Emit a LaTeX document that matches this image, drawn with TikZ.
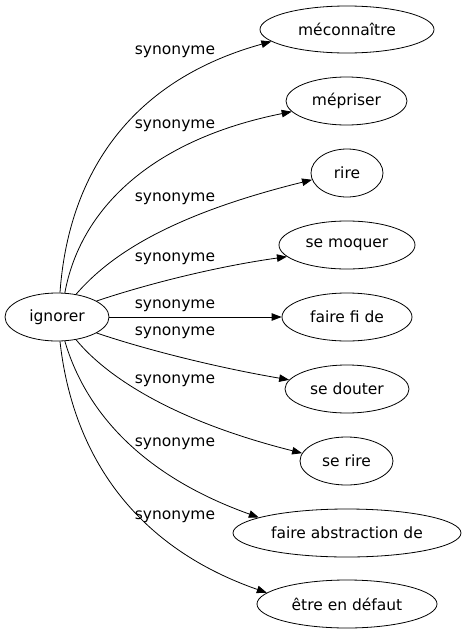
\documentclass[tikz,border=0pt]{standalone}
\usepackage{fontspec}
\setmainfont{DejaVu Sans}
\usetikzlibrary{shapes.geometric,arrows.meta}
\begin{document}
\begin{tikzpicture}[x=1pt,y=-1pt,
  word/.style={draw,ellipse,inner sep=0pt,line width=0.8pt,font=\fontsize{15.5}{18}\selectfont},
  lbl/.style={inner sep=0pt,font=\fontsize{15.5}{18}\selectfont},
  arr/.style={line width=0.8pt,-{Triangle[length=10pt,width=7.5pt]}}]
\useasboundingbox (0,0) rectangle (466,635);
\node[word,minimum width=104pt,minimum height=48pt] (ig) at (57,317) {ignorer};
\node[word,minimum width=174pt,minimum height=47pt] (n1) at (347,29.5) {méconnaître};
\node[word,minimum width=121pt,minimum height=48pt] (n2) at (346.5,101) {mépriser};
\node[word,minimum width=72pt,minimum height=48pt] (n3) at (347,173) {rire};
\node[word,minimum width=136pt,minimum height=48pt] (n4) at (347,245) {se moquer};
\node[word,minimum width=130pt,minimum height=48pt] (n5) at (347,317) {faire fi de};
\node[word,minimum width=124pt,minimum height=48pt] (n6) at (347,389) {se douter};
\node[word,minimum width=93pt,minimum height=48pt] (n7) at (346.5,461) {se rire};
\node[word,minimum width=228pt,minimum height=48pt] (n8) at (347,533) {faire abstraction de};
\node[word,minimum width=180pt,minimum height=48pt] (n9) at (347,604) {être en défaut};
\node[lbl] (l1) at (175,52) {synonyme};
\node[lbl] (l2) at (175,126) {synonyme};
\node[lbl] (l3) at (175,199) {synonyme};
\node[lbl] (l4) at (175,259) {synonyme};
\node[lbl] (l5) at (175,306) {synonyme};
\node[lbl] (l6) at (175,333) {synonyme};
\node[lbl] (l7) at (175,381) {synonyme};
\node[lbl] (l8) at (175,444) {synonyme};
\node[lbl] (l9) at (175,517) {synonyme};
\draw[arr] (ig.83) .. controls (68,180) and (125,82) .. (n1.189);
\draw[arr] (ig.72) .. controls (80,210) and (150,140) .. (n2.191);
\draw[arr] (ig.50) .. controls (110,255) and (170,215) .. (n3.191);
\draw[arr] (ig.22) .. controls (150,283) and (220,266) .. (n4.191);
\draw[arr] (ig.east) -- (n5.west);
\draw[arr] (ig.-22) .. controls (150,351) and (220,368) .. (n6.171);
\draw[arr] (ig.-50) .. controls (105,375) and (170,420) .. (n7.170);
\draw[arr] (ig.-72) .. controls (85,410) and (140,475) .. (n8.170);
\draw[arr] (ig.-83) .. controls (72,450) and (130,545) .. (n9.172);
\end{tikzpicture}
\end{document}
